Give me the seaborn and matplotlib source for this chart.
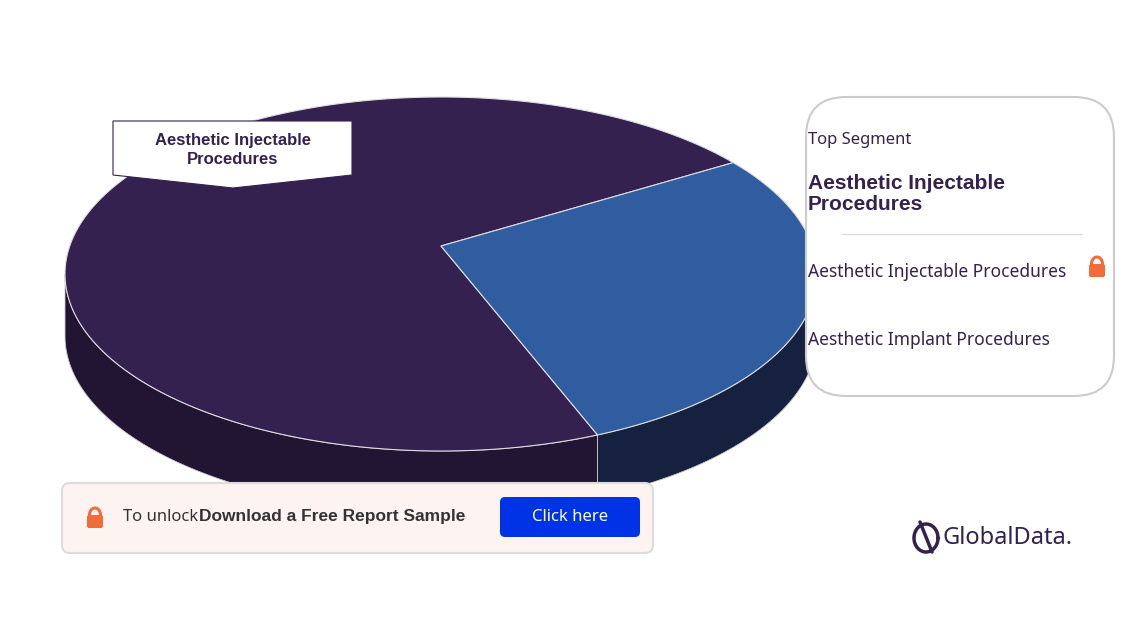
import numpy as np
import matplotlib.pyplot as plt
import seaborn as sns
from matplotlib.patches import Polygon, FancyBboxPatch

segments = ["Aesthetic Injectable Procedures", "Aesthetic Implant Procedures"]
shares = [71, 29]
top_colors = ["#34214f", "#2f5d9f"]
side_colors = ["#221534", "#16213f"]

sns.set_theme(style="white")
plt.rcParams['font.family'] = ['Noto Sans', 'DejaVu Sans']
BOLD = ['Liberation Sans', 'DejaVu Sans']

fig = plt.figure(figsize=(11.35, 6.38), dpi=100)
ax = fig.add_axes([0, 0, 1, 1])
ax.set_xlim(0, 1135)
ax.set_ylim(638, 0)
ax.axis("off")

cx, cy, rx, ry, depth = 441, 274, 376, 177, 62
apex = (441, 246)
start = 39.0

def pt(t):
    r = np.radians(t)
    return cx + rx * np.cos(r), cy - ry * np.sin(r)

fr = np.array(shares, dtype=float) / sum(shares)
ranges = {1: (start - 360 * fr[1], start), 0: (start - 360, start - 360 * fr[1])}

# side walls on the front half
for i in (0, 1):
    a0, a1 = ranges[i]
    for off in (0, -360, 360):
        lo, hi = max(a0 + off, -180), min(a1 + off, 0)
        if hi > lo:
            ts = np.linspace(lo, hi, 100)
            top = [pt(t) for t in ts]
            bot = [(x, y + depth) for x, y in top[::-1]]
            ax.add_patch(Polygon(top + bot, closed=True, fc=side_colors[i], ec="#cccccc", lw=0.6))

# top faces
for i in (0, 1):
    a0, a1 = ranges[i]
    ts = np.linspace(a0, a1, 200)
    poly = [apex] + [pt(t) for t in ts]
    ax.add_patch(Polygon(poly, closed=True, fc=top_colors[i], ec="#dddddd", lw=0.8))

# callout label
ax.add_patch(Polygon([(113, 121), (352, 121), (352, 175), (233, 188), (113, 175)],
                     closed=True, fc="white", ec="#34214f", lw=0.8))
ax.text(233, 150, "Aesthetic Injectable\nProcedures", ha="center", va="center",
        fontsize=12, fontweight="bold", color="#34214f", linespacing=1.25, family=BOLD)

# right card
ax.add_patch(FancyBboxPatch((806, 97), 308, 299, boxstyle="round,pad=0,rounding_size=40",
                            fc="white", ec="#cccccc", lw=1.5))
ax.text(808, 140, "Top Segment", fontsize=12, color="#34214f", va="center")
ax.text(808, 194, "Aesthetic Injectable\nProcedures", fontsize=15, fontweight="bold",
        color="#34214f", va="center", linespacing=1.1, family=BOLD)
ax.plot([842, 1082], [234, 234], color="#dddddd", lw=1)
ax.text(808, 272, segments[0], fontsize=12.5, color="#34214f", va="center")
ax.text(808, 340, segments[1], fontsize=12.5, color="#34214f", va="center")

def lock(x, y, s=1.0):
    ax.add_patch(FancyBboxPatch((x - 8 * s, y - 4 * s), 16 * s, 13 * s,
                                boxstyle="round,pad=0,rounding_size=2", fc="#f26b3a", ec="none"))
    th = np.linspace(0, np.pi, 30)
    ax.plot(x + 5.5 * s * np.cos(th), y - 4 * s - 7 * s * np.sin(th), color="#f26b3a", lw=2.2)

lock(1097, 268)

# bottom banner
ax.add_patch(FancyBboxPatch((62, 483), 591, 70, boxstyle="round,pad=0,rounding_size=8",
                            fc="#fdf3f0", ec="#dddddd", lw=1.5))
lock(95, 519)
ax.text(123, 517, "To unlock", fontsize=12, color="#333333", va="center")
ax.text(199, 517, "Download a Free Report Sample", fontsize=12.5, fontweight="bold",
        color="#333333", va="center", family=BOLD)
ax.add_patch(FancyBboxPatch((500, 497), 140, 40, boxstyle="round,pad=0,rounding_size=5",
                            fc="#0033e6", ec="none"))
ax.text(570, 517, "Click here", fontsize=12, color="white", ha="center", va="center")

# logo
th = np.linspace(0, 2 * np.pi, 60)
ax.plot(926 + 12 * np.cos(th), 538 + 14 * np.sin(th), color="#34214f", lw=2.5)
ax.plot([920, 932], [522, 552], color="#34214f", lw=2.5)
ax.text(942, 538, "GlobalData.", fontsize=17, color="#34214f", va="center")

fig.savefig("out.png", dpi=100)
